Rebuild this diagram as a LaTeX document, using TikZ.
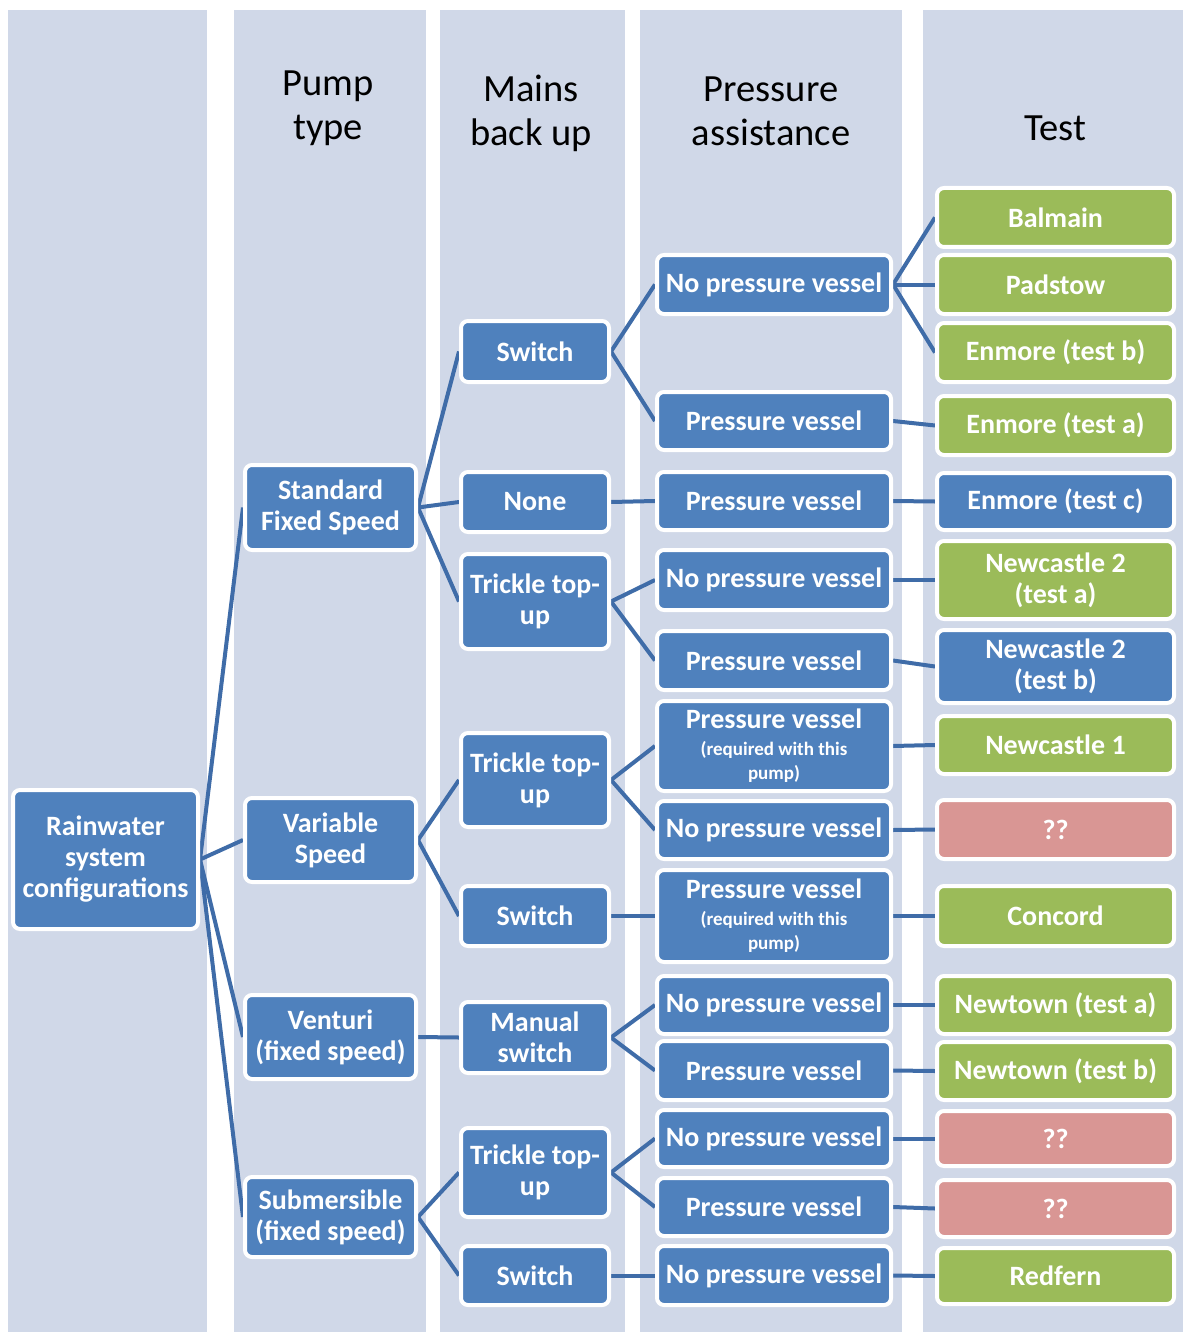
\documentclass[tikz,border=0pt]{standalone}
\usepackage{fontspec}
\setmainfont{Carlito}
\definecolor{band}{HTML}{D0D8E8}
\definecolor{nodeblue}{HTML}{4F81BD}
\definecolor{nodegreen}{HTML}{9BBB59}
\definecolor{nodered}{HTML}{D99694}
\definecolor{linkblue}{HTML}{3F6CA8}
\pgfdeclarelayer{bands}
\pgfdeclarelayer{links}
\pgfsetlayers{bands,links,main}
\newcommand\boxfont{\bfseries\fontsize{28}{31}\selectfont}
\newcommand\reqfont{\fontsize{19}{24}\selectfont}
\newcommand\headfont{\fontsize{38.5}{44}\selectfont}
\begin{document}
\begin{tikzpicture}[x=1pt,y=-1pt,
  box/.style={draw=white, line width=4pt, rounded corners=7pt, inner sep=0pt,
    text=white, align=center, font=\boxfont},
  rootbox/.style={box, fill=nodeblue, minimum width=185, minimum height=139},
  pumpbox/.style={box, fill=nodeblue, minimum width=171, minimum height=#1},
  mainsbox/.style={box, fill=nodeblue, minimum width=148, minimum height=#1},
  presbox/.style={box, fill=nodeblue, minimum width=234, minimum height=#1},
  testbox/.style={box, minimum width=237, minimum height=#1},
  fillblue/.style={fill=nodeblue},
  fillgreen/.style={fill=nodegreen},
  fillred/.style={fill=nodered},
  head/.style={align=center, font=\headfont, text=black, inner sep=0pt},
  link/.style={draw=linkblue, line width=4pt}]
\useasboundingbox (0,0) rectangle (1183,1332);

% column bands
\begin{pgfonlayer}{bands}
  \fill[band] (8,10) rectangle (207,1332);
  \fill[band] (234,10) rectangle (426,1332);
  \fill[band] (440,10) rectangle (625,1332);
  \fill[band] (640,10) rectangle (902,1332);
  \fill[band] (923,10) rectangle (1183,1332);
\end{pgfonlayer}

% column headings
\node[head] (hpump) at (328,108) {Pump\\type};
\node[head] (hmains) at (531,113) {Mains\\back up};
\node[head] (hpres) at (771,111) {Pressure\\assistance};
\node[head] (htest) at (1055,128) {Test};

% root
\node[rootbox] (root) at (105.5,859.5) {Rainwater\\system\\configurations};

% pump type
\node[pumpbox=85] (std) at (330.5,507.5) {Standard\\Fixed Speed};
\node[pumpbox=84] (var) at (330.5,840) {Variable\\Speed};
\node[pumpbox=84] (ven) at (330.5,1037) {Venturi\\(fixed speed)};
\node[pumpbox=80] (sub) at (330.5,1217) {Submersible\\(fixed speed)};

% mains back up
\node[mainsbox=61] (sw1) at (535,351.5) {Switch};
\node[mainsbox=60] (none) at (535,502) {None};
\node[mainsbox=95] (tr1) at (535,601.5) {Trickle top-\\up};
\node[mainsbox=94] (tr2) at (535,780) {Trickle top-\\up};
\node[mainsbox=60] (sw2) at (535,916) {Switch};
\node[mainsbox=71] (man) at (535,1037.5) {Manual\\switch};
\node[mainsbox=89] (tr3) at (535,1172.5) {Trickle top-\\up};
\node[mainsbox=59] (sw3) at (535,1275.5) {Switch};

% pressure assistance
\node[presbox=59] (npv1) at (774,284.5) {No pressure vessel};
\node[presbox=58] (pv1) at (774,421) {Pressure vessel};
\node[presbox=58] (pv2) at (774,501) {Pressure vessel};
\node[presbox=60] (npv2) at (774,580) {No pressure vessel};
\node[presbox=59] (pv3) at (774,660.5) {Pressure vessel};
\node[presbox=90] (pvr1) at (774,746) {Pressure vessel\\[-4pt]\reqfont(required with this\\[-7pt]\reqfont pump)};
\node[presbox=58] (npv3) at (774,830) {No pressure vessel};
\node[presbox=92] (pvr2) at (774,916) {Pressure vessel\\[-4pt]\reqfont(required with this\\[-7pt]\reqfont pump)};
\node[presbox=58] (npv4) at (774,1005) {No pressure vessel};
\node[presbox=59] (pv6) at (774,1070.5) {Pressure vessel};
\node[presbox=57] (npv5) at (774,1138.5) {No pressure vessel};
\node[presbox=58] (pv7) at (774,1207) {Pressure vessel};
\node[presbox=59] (npv6) at (774,1275.5) {No pressure vessel};

% test
\node[testbox=59, fillgreen] (balmain) at (1055.5,217.5) {Balmain};
\node[testbox=59, fillgreen] (padstow) at (1055.5,284.5) {Padstow};
\node[testbox=59, fillgreen] (enmoreb) at (1055.5,352.5) {Enmore (test b)};
\node[testbox=59, fillgreen] (enmorea) at (1055.5,425.5) {Enmore (test a)};
\node[testbox=57, fillblue] (enmorec) at (1055.5,501.5) {Enmore (test c)};
\node[testbox=78, fillgreen] (nc2a) at (1055.5,580) {Newcastle 2\\(test a)};
\node[testbox=73, fillblue] (nc2b) at (1055.5,666.5) {Newcastle 2\\(test b)};
\node[testbox=58, fillgreen] (nc1) at (1055.5,745) {Newcastle 1};
\node[testbox=59, fillred] (q1) at (1055.5,829.5) {??};
\node[testbox=60, fillgreen] (concord) at (1055.5,916) {Concord};
\node[testbox=58, fillgreen] (newtowna) at (1055.5,1005) {Newtown (test a)};
\node[testbox=58, fillgreen] (newtownb) at (1055.5,1071) {Newtown (test b)};
\node[testbox=55, fillred] (q2) at (1055.5,1138.5) {??};
\node[testbox=57, fillred] (q3) at (1055.5,1208.5) {??};
\node[testbox=56, fillgreen] (redfern) at (1055.5,1276) {Redfern};

% connectors
\begin{pgfonlayer}{links}
  \foreach \a/\b in {root/std, root/var, root/ven, root/sub,
      std/sw1, std/none, std/tr1, var/tr2, var/sw2, ven/man, sub/tr3, sub/sw3,
      sw1/npv1, sw1/pv1, none/pv2, tr1/npv2, tr1/pv3, tr2/pvr1, tr2/npv3,
      sw2/pvr2, man/npv4, man/pv6, tr3/npv5, tr3/pv7, sw3/npv6,
      npv1/balmain, npv1/padstow, npv1/enmoreb, pv1/enmorea, pv2/enmorec,
      npv2/nc2a, pv3/nc2b, pvr1/nc1, npv3/q1, pvr2/concord, npv4/newtowna,
      pv6/newtownb, npv5/q2, pv7/q3, npv6/redfern}
    \draw[link] (\a.east) -- (\b.west);
\end{pgfonlayer}
\end{tikzpicture}
\end{document}
